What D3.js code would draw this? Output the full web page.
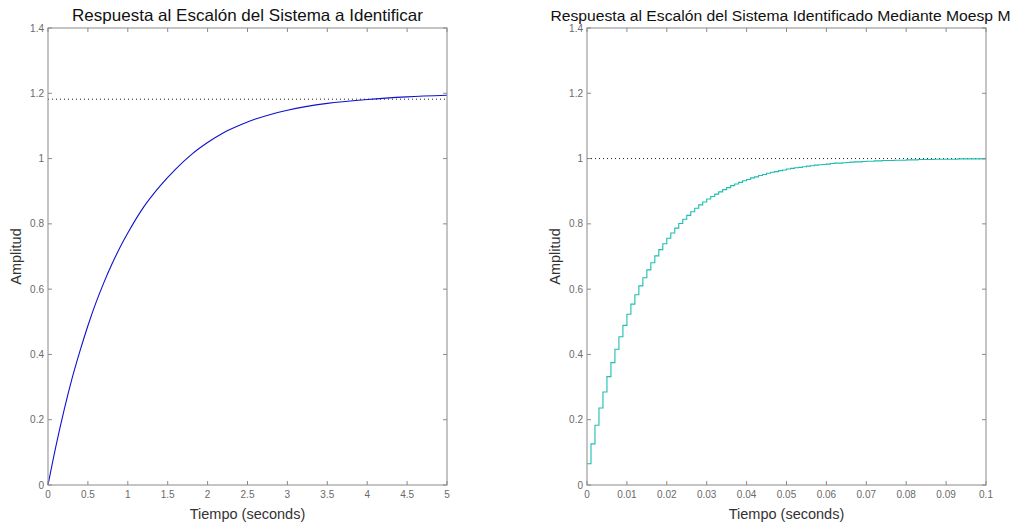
<!DOCTYPE html>
<html><head><meta charset="utf-8">
<script src="https://cdn.jsdelivr.net/npm/d3@7"></script>
<style>body{margin:0;background:#fff}svg{display:block}</style>
</head><body>
<svg id="c" width="1029" height="524"></svg>
<script>
// Left plot: continuous step response of the system to identify
const leftTitle = "Respuesta al Escalón del Sistema a Identificar";
const leftTime = [0,0.1,0.2,0.3,0.4,0.5,0.6,0.7,0.8,0.9,1.0,1.2,1.4,1.6,1.8,2.0,2.2,2.4,2.6,2.8,3.0,3.5,4.0,4.5,5.0];
const leftResp = [0,0.120,0.228,0.325,0.410,0.488,0.558,0.620,0.676,0.727,0.772,0.852,0.915,0.968,1.013,1.049,1.079,1.102,1.121,1.136,1.148,1.169,1.181,1.189,1.194];
const leftFinal = 1.182;
const leftXTicks = [0,0.5,1,1.5,2,2.5,3,3.5,4,4.5,5];
const leftXTickLabels = ["0","0.5","1","1.5","2","2.5","3","3.5","4","4.5","5"];

// Right plot: discrete step response of the identified system (Moesp)
const rightTitle = "Respuesta al Escalón del Sistema Identificado Mediante Moesp M";
const rightSampleTime = 0.001;
const rightResp = [0.065,0.126,0.183,0.236,0.285,0.332,0.375,0.416,0.454,0.489,
0.523,0.554,0.583,0.610,0.635,0.659,0.681,0.702,0.721,0.739,
0.756,0.772,0.787,0.801,0.814,0.826,0.837,0.848,0.858,0.867,
0.876,0.884,0.891,0.898,0.905,0.911,0.917,0.922,0.927,0.932,
0.936,0.941,0.944,0.948,0.951,0.955,0.958,0.960,0.963,0.965,
0.968,0.970,0.972,0.973,0.975,0.977,0.978,0.980,0.981,0.982,
0.983,0.985,0.986,0.986,0.987,0.988,0.989,0.990,0.990,0.991,
0.992,0.992,0.993,0.993,0.994,0.994,0.994,0.995,0.995,0.995,
0.996,0.996,0.996,0.997,0.997,0.997,0.997,0.998,0.998,0.998,
0.998,0.998,0.998,0.999,0.999,0.999,0.999,0.999,0.999,0.999,0.999];
const rightFinal = 1.0;
const rightXTicks = [0,0.01,0.02,0.03,0.04,0.05,0.06,0.07,0.08,0.09,0.1];
const rightXTickLabels = ["0","0.01","0.02","0.03","0.04","0.05","0.06","0.07","0.08","0.09","0.1"];

const yTicks = [0,0.2,0.4,0.6,0.8,1,1.2,1.4];
const yTickLabels = ["0","0.2","0.4","0.6","0.8","1","1.2","1.4"];
const xLabel = "Tiempo (seconds)";
const yLabel = "Amplitud";

const svg = d3.select("#c");
const font = "Liberation Sans, Arial, sans-serif";

function panel(o){
  const g = svg.append("g");
  const x = d3.scaleLinear().domain(o.xDomain).range([o.left, o.right]);
  const y = d3.scaleLinear().domain([0,1.4]).range([o.bottom, o.top]);
  const axisColor = "#8a8a8a";
  const tl = 4;
  const line = d3.line().x(d=>x(d[0])).y(d=>y(d[1])).curve(o.curve);
  g.append("line").attr("x1",x(o.xDomain[0])).attr("x2",x(o.xDomain[1]))
    .attr("y1",y(o.final)).attr("y2",y(o.final))
    .attr("stroke","#222").attr("stroke-width",1).attr("stroke-dasharray","1,3");
  g.append("path").datum(o.pts).attr("d",line).attr("fill","none")
    .attr("stroke",o.color).attr("stroke-width",1.1);
  g.append("rect").attr("x",o.left).attr("y",o.top).attr("width",o.right-o.left).attr("height",o.bottom-o.top)
    .attr("fill","none").attr("stroke",axisColor).attr("stroke-width",1);
  o.xTicks.forEach((t,i)=>{
    const px = x(t);
    g.append("line").attr("x1",px).attr("x2",px).attr("y1",o.bottom).attr("y2",o.bottom-tl).attr("stroke",axisColor);
    g.append("line").attr("x1",px).attr("x2",px).attr("y1",o.top).attr("y2",o.top+tl).attr("stroke",axisColor);
    g.append("text").attr("x",px).attr("y",o.bottom+13).attr("text-anchor","middle")
      .attr("font-family",font).attr("font-size",10).attr("fill","#6a6a6a").text(o.xTickLabels[i]);
  });
  yTicks.forEach((t,i)=>{
    const py = y(t);
    g.append("line").attr("x1",o.left).attr("x2",o.left+tl).attr("y1",py).attr("y2",py).attr("stroke",axisColor);
    g.append("line").attr("x1",o.right).attr("x2",o.right-tl).attr("y1",py).attr("y2",py).attr("stroke",axisColor);
    g.append("text").attr("x",o.left-4).attr("y",py+3.5).attr("text-anchor","end")
      .attr("font-family",font).attr("font-size",10).attr("fill","#6a6a6a").text(yTickLabels[i]);
  });
  g.append("text").attr("x",(o.left+o.right)/2 + o.titleDx).attr("y",21).attr("text-anchor","middle")
    .attr("font-family",font).attr("font-size",o.titleSize).attr("fill","#111")
    .attr("textLength",o.titleW).attr("lengthAdjust","spacingAndGlyphs").text(o.title);
  g.append("text").attr("x",(o.left+o.right)/2).attr("y",519).attr("text-anchor","middle")
    .attr("font-family",font).attr("font-size",14.5).attr("fill","#333").text(xLabel);
  g.append("text").attr("transform",`translate(${o.left-27},${(o.top+o.bottom)/2}) rotate(-90)`)
    .attr("text-anchor","middle").attr("font-family",font).attr("font-size",14.5).attr("fill","#333").text(yLabel);
}

panel({left:48,right:447,top:28,bottom:485,xDomain:[0,5],
  pts:leftTime.map((t,i)=>[t,leftResp[i]]),curve:d3.curveMonotoneX,color:"#1010d0",
  final:leftFinal,xTicks:leftXTicks,xTickLabels:leftXTickLabels,title:leftTitle,titleW:351,titleDx:0,titleSize:16.5});
panel({left:587,right:986,top:28,bottom:485,xDomain:[0,0.1],
  pts:rightResp.map((v,i)=>[i*rightSampleTime,v]),curve:d3.curveStepAfter,color:"#1cbfb0",
  final:rightFinal,xTicks:rightXTicks,xTickLabels:rightXTickLabels,title:rightTitle,titleW:460,titleDx:-6,titleSize:15.5});
</script>
</body></html>
